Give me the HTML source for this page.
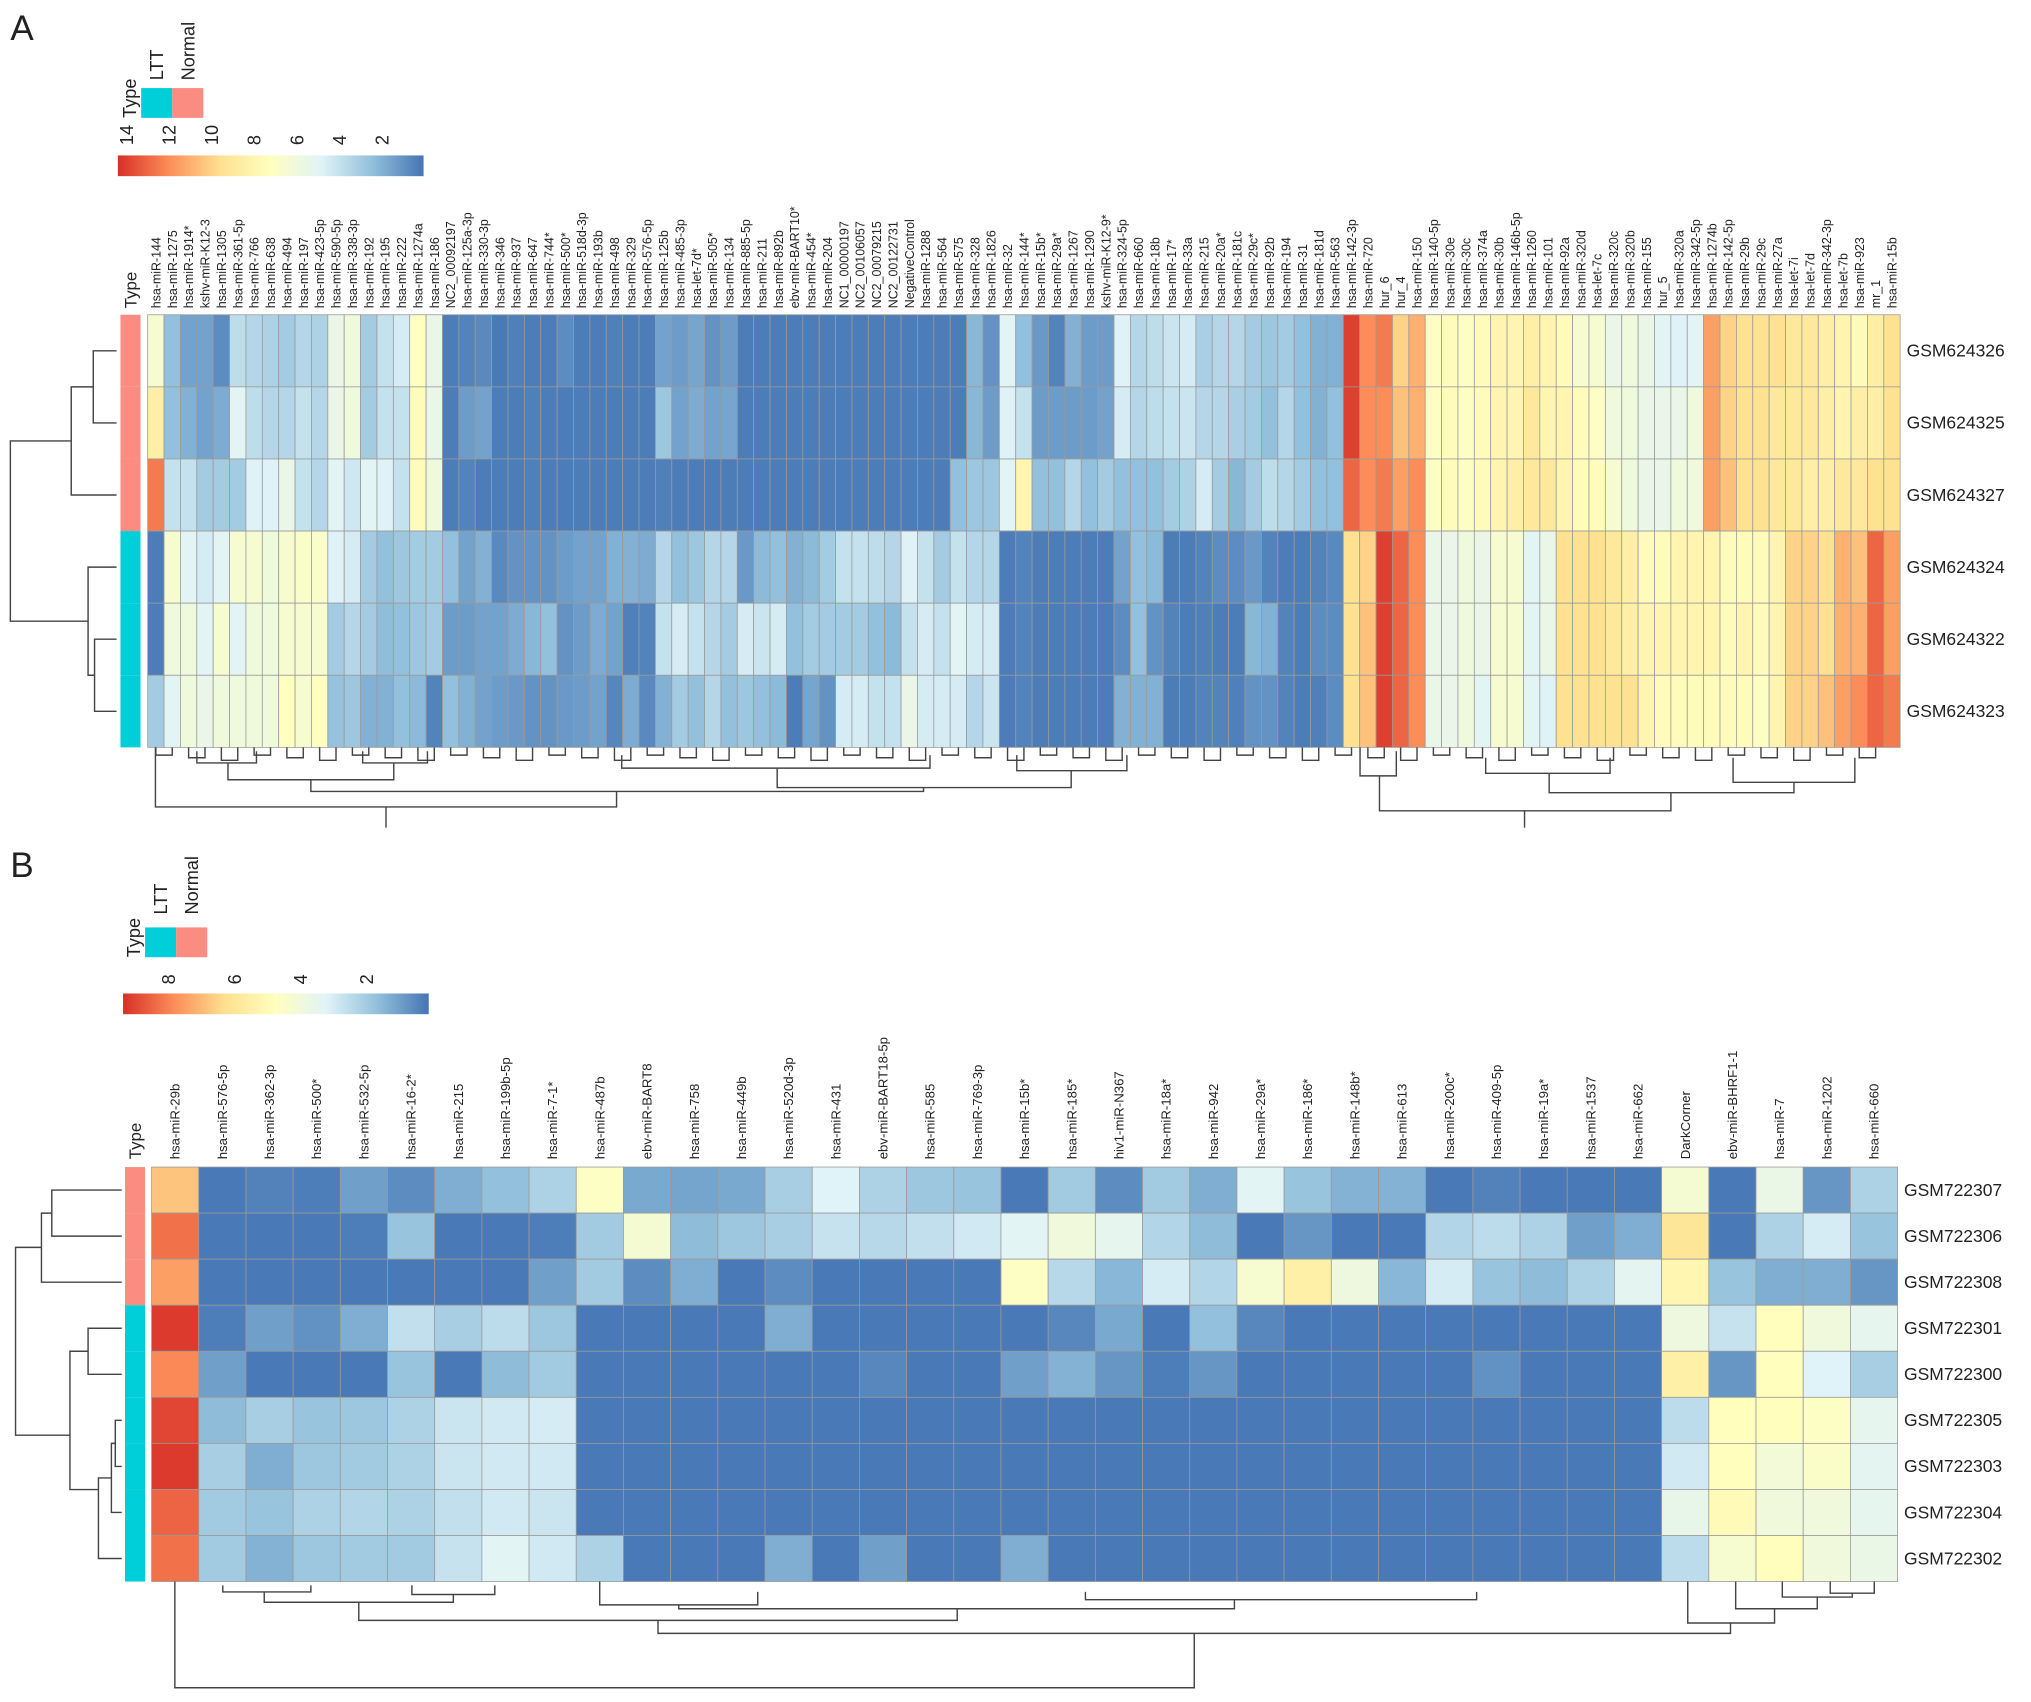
<!DOCTYPE html>
<html><head><meta charset="utf-8">
<style>
html,body{margin:0;padding:0;background:#fff;}
svg{display:block;}
text{font-family:"Liberation Sans",Arial,sans-serif;fill:#222;}
</style></head>
<body>
<svg id="fig" width="2031" height="1702" viewBox="0 0 1568 1314" preserveAspectRatio="none" xmlns="http://www.w3.org/2000/svg">
<text x="8" y="31" font-size="27">A</text>
<text x="8" y="677" font-size="27">B</text>
<g id="gA"></g>
<g id="gB"></g>
</svg>
<script>
// ---------- Panel A data ----------
const colsA = ["hsa-miR-144","hsa-miR-1275","hsa-miR-1914*","kshv-miR-K12-3","hsa-miR-1305","hsa-miR-361-5p","hsa-miR-766","hsa-miR-638","hsa-miR-494","hsa-miR-197","hsa-miR-423-5p","hsa-miR-590-5p","hsa-miR-338-3p","hsa-miR-192","hsa-miR-195","hsa-miR-222","hsa-miR-1274a","hsa-miR-186","NC2_00092197","hsa-miR-125a-3p","hsa-miR-330-3p","hsa-miR-346","hsa-miR-937","hsa-miR-647","hsa-miR-744*","hsa-miR-500*","hsa-miR-518d-3p","hsa-miR-193b","hsa-miR-498","hsa-miR-329","hsa-miR-576-5p","hsa-miR-125b","hsa-miR-485-3p","hsa-let-7d*","hsa-miR-505*","hsa-miR-134","hsa-miR-885-5p","hsa-miR-211","hsa-miR-892b","ebv-miR-BART10*","hsa-miR-454*","hsa-miR-204","NC1_00000197","NC2_00106057","NC2_00079215","NC2_00122731","NegativeControl","hsa-miR-1288","hsa-miR-564","hsa-miR-575","hsa-miR-328","hsa-miR-1826","hsa-miR-32","hsa-miR-144*","hsa-miR-15b*","hsa-miR-29a*","hsa-miR-1267","hsa-miR-1290","kshv-miR-K12-9*","hsa-miR-324-5p","hsa-miR-660","hsa-miR-18b","hsa-miR-17*","hsa-miR-33a","hsa-miR-215","hsa-miR-20a*","hsa-miR-181c","hsa-miR-29c*","hsa-miR-92b","hsa-miR-194","hsa-miR-31","hsa-miR-181d","hsa-miR-563","hsa-miR-142-3p","hsa-miR-720","hur_6","hur_4","hsa-miR-150","hsa-miR-140-5p","hsa-miR-30e","hsa-miR-30c","hsa-miR-374a","hsa-miR-30b","hsa-miR-146b-5p","hsa-miR-1260","hsa-miR-101","hsa-miR-92a","hsa-miR-320d","hsa-let-7c","hsa-miR-320c","hsa-miR-320b","hsa-miR-155","hur_5","hsa-miR-320a","hsa-miR-342-5p","hsa-miR-1274b","hsa-miR-142-5p","hsa-miR-29b","hsa-miR-29c","hsa-miR-27a","hsa-let-7i","hsa-let-7d","hsa-miR-342-3p","hsa-let-7b","hsa-miR-923","mr_1","hsa-miR-15b"];
const rowsA = ["GSM624326","GSM624325","GSM624327","GSM624324","GSM624322","GSM624323"];
const typesA = ["Normal","Normal","Normal","LTT","LTT","LTT"];
const ticksA = [14,12,10,8,6,4,2];
const rangeA = [0.05,14.4];
// values per column (rows in rowsA order)
const valsA = [
[6.5,8.5,12.5,0.3,0.3,3],[2.5,2.5,4,6.5,6,5],[1.5,2,4,5,6,6],[1.5,1.5,3,4.5,5,5.5],[0.8,1.8,3,5,6.5,6],
[3.8,5,3,6.5,5,6],[3.5,3.8,4.8,6.5,6,6],[3.3,3.5,4.8,6,6,6],[3,3.5,5.5,6.5,6.5,7.2],[3.5,4,4,6.8,6.5,6.5],
[3.3,3.5,3.5,6.8,6.5,7.2],[5.5,5.5,5,4.8,3,2.6],[6,6,4.3,4.5,3.5,2.8],[3,3,5,3,3,2],[4,4,4.8,2.5,2.4,2],
[4.5,4,4,2.8,2.5,2.5],[7.2,7.5,7.5,3,2.8,2.3],[5.5,5.5,6,3,3,0.5],[0.3,0.3,0.3,2.5,1.3,2.5],[0.5,1.3,0.5,1.5,1.3,2],
[0.7,1.5,0.3,2,1.5,1.5],[0.2,0.3,0.3,0.7,1.5,1.3],[0.4,0.3,0.3,1,1.8,1.2],[0.3,0.4,0.4,1,2.2,1],[0.3,0.3,0.3,1,2.5,1],
[0.8,0.3,0.3,1.3,1,1.2],[0.3,0.3,0.3,1.5,1.3,1.3],[0.3,0.3,0.3,1.5,1.8,1.5],[0.4,0.3,0.3,2,1.5,0.6],[0.3,0.3,0.3,2,0.4,1.8],
[0.3,0.3,0.3,1.8,0.5,0.7],[1.5,2.8,0.4,3.5,4,2],[1.3,1.5,0.3,2.5,4.5,3],[1.6,1.8,0.3,2.8,4,2.5],[1.0,1.5,0.3,3.5,3.5,3.5],
[1.3,1.6,0.3,3.5,3,2.5],[0.3,0.3,0.3,1.2,4.5,2.8],[0.3,0.3,0.3,2.3,4.2,2.5],[0.3,0.3,0.3,2.5,4.5,2.3],[0.3,0.3,0.3,2,2.5,0.3],
[0.3,0.3,0.3,2.3,3,1.6],[0.3,0.3,0.3,3,3,1.0],[0.3,0.3,0.3,4,3,4.5],[0.3,0.3,0.3,4,3,4.5],[0.3,0.3,0.3,3.8,2.5,4],
[0.3,0.3,0.3,3.5,2.3,4],[0.3,0.3,0.3,4.8,4,5.5],[0.3,0.3,0.3,4,4.5,4.5],[0.3,0.3,0.3,3,4,4.5],[0.3,0.3,2.5,4,5,4.5],
[2.2,2.2,2.8,3.5,4.5,3.5],[1.0,1.3,2.8,3.5,4.5,4.2],[5,4.8,5,0.3,0.3,0.3],[2.5,4,8,0.5,0.5,0.5],[1.2,1.3,2.5,0.3,0.3,0.3],
[0.5,1.3,2.5,0.3,0.3,0.3],[2,1.3,3.5,0.3,0.3,0.3],[1.3,1.3,2.5,0.3,0.3,0.3],[1.3,1.5,3,0.3,0.3,0.3],[4.8,4.5,2.5,1.5,0.8,2],
[3.5,3.5,2.5,2.5,2.5,2],[3.8,3.8,2.5,2.3,1.0,2],[4.2,4,3,0.3,0.5,0.3],[4.5,4.2,3.3,0.3,0.3,0.3],[3.2,3.5,4.5,0.5,0.4,0.5],
[3.5,3.5,3,0.8,0.3,0.5],[3.5,3.2,2.2,0.8,0.3,0.4],[3,3,3,1.2,2.2,1],[2.8,2.5,3.8,0.5,2,1],[3,3.5,3.5,0.3,0.5,0.5],
[2.5,2.5,3,0.3,0.3,0.3],[2,2,2.5,0.5,0.8,0.4],[2,2.5,2.5,0.7,0.8,0.8],[14,14,13,9.5,9.5,9.5],[12,12,12,10,10.5,10.5],
[12.5,12,12.5,14,14,14],[10,10.5,11.5,13,13,13],[11,11,12,12,12,12],[7,7,7,5.5,5.5,5.5],[7.5,7.5,7.5,5.5,5.5,5.5],
[7,7,7,6,6,6],[7.5,7.5,7.5,5.5,5.5,5],[8,8,8,6.5,6.5,6.5],[8,8,8.5,6.5,6.5,6.5],[8.5,9,9,5,5,5],
[8,8,9,5.5,5.5,4.8],[7.5,8,8,9.5,9.5,9.5],[6.5,7.5,7.5,9.5,9.5,9.5],[6.5,7,7.5,9.5,9.5,9.5],[5.5,6,6.5,9,9,9.5],
[6,6,6,8.5,8.5,9.5],[5.5,5.5,5.5,7.5,8,8],[5,5.5,5.5,7.5,8,7.5],[4.8,5.5,6,8,8,7.5],[5,6,6,8,8,7.5],
[11.5,11.5,11.5,8,8,7.5],[10,10,10.5,7.5,7.5,7.5],[9.5,9.5,9.5,7.5,8,7.5],[9.5,9.5,9.5,7.5,7.5,7],[9.5,9,9,8,8,8],
[9,9,9,10,10,10],[9,9,8.5,10,10,10],[8.5,8.5,8.5,9.5,9.5,10.5],[8,8,9,11,11,11.5],[7.5,8.5,9,10.5,11,12],
[8.5,8.5,9.5,13,13,13],[9.5,9.5,9.5,11.5,11.5,12.5]
];

// ---------- Panel B data ----------
const colsB = ["hsa-miR-29b","hsa-miR-576-5p","hsa-miR-362-3p","hsa-miR-500*","hsa-miR-532-5p","hsa-miR-16-2*","hsa-miR-215","hsa-miR-199b-5p","hsa-miR-7-1*","hsa-miR-487b","ebv-miR-BART8","hsa-miR-758","hsa-miR-449b","hsa-miR-520d-3p","hsa-miR-431","ebv-miR-BART18-5p","hsa-miR-585","hsa-miR-769-3p","hsa-miR-15b*","hsa-miR-185*","hiv1-miR-N367","hsa-miR-18a*","hsa-miR-942","hsa-miR-29a*","hsa-miR-186*","hsa-miR-148b*","hsa-miR-613","hsa-miR-200c*","hsa-miR-409-5p","hsa-miR-19a*","hsa-miR-1537","hsa-miR-662","DarkCorner","ebv-miR-BHRF1-1","hsa-miR-7","hsa-miR-1202","hsa-miR-660"];
const rowsB = ["GSM722307","GSM722306","GSM722308","GSM722301","GSM722300","GSM722305","GSM722303","GSM722304","GSM722302"];
const typesB = ["Normal","Normal","Normal","LTT","LTT","LTT","LTT","LTT","LTT"];
const ticksB = [8,6,4,2];
const rangeB = [0.12,9.37];
const valsB = [
[6.8,8.3,7.5,9.2,7.9,9,9.2,8.5,8.3],[0.2,0.2,0.2,0.3,1.0,1.6,2.1,2.0,2.0],[0.4,0.2,0.2,1.0,0.2,2.1,1.3,1.8,1.4],
[0.3,0.2,0.2,0.7,0.2,1.8,1.9,2.2,1.9],[1.0,0.3,0.2,1.3,0.2,1.9,2.0,2.3,2.0],[0.6,1.8,0.2,2.6,1.8,2.2,2.2,2.2,2.0],
[1.3,0.2,0.2,2.1,0.2,2.8,2.8,2.6,2.7],[1.7,0.2,0.2,2.5,1.6,2.9,2.9,2.9,3.3],[2.2,0.3,1.0,1.9,2.0,3.0,2.9,2.8,2.9],
[4.6,2.0,2.0,0.2,0.2,0.2,0.2,0.2,2.2],[1.2,4.2,0.6,0.2,0.2,0.2,0.2,0.2,0.2],[1.1,1.6,1.3,0.2,0.2,0.2,0.2,0.2,0.2],
[1.2,1.9,0.2,0.2,0.2,0.2,0.2,0.2,0.2],[2.1,2.1,0.6,1.3,0.2,0.2,0.2,0.2,1.3],[3.2,2.7,0.2,0.2,0.2,0.2,0.2,0.2,0.2],
[2.2,2.4,0.2,0.2,0.5,0.2,0.2,0.2,1.0],[1.9,2.6,0.2,0.2,0.2,0.2,0.2,0.2,0.2],[1.8,2.9,0.2,0.2,0.2,0.2,0.2,0.2,0.2],
[0.2,3.3,4.6,0.2,1.0,0.2,0.2,0.2,1.3],[2.0,4.0,2.4,0.5,1.4,0.2,0.2,0.2,0.2],[0.6,3.5,1.5,1.2,0.8,0.2,0.2,0.2,0.2],
[2.0,2.3,3.0,0.2,0.3,0.2,0.2,0.2,0.2],[1.3,1.6,2.3,1.7,0.8,0.2,0.2,0.2,0.2],[3.3,0.2,4.3,0.5,0.2,0.2,0.2,0.2,0.2],
[1.8,0.8,5.5,0.2,0.2,0.2,0.2,0.2,0.2],[1.4,0.2,3.9,0.2,0.2,0.2,0.2,0.2,0.2],[1.4,0.2,1.5,0.2,0.2,0.2,0.2,0.2,0.2],
[0.2,2.3,3.0,0.2,0.2,0.2,0.2,0.2,0.2],[0.4,2.5,1.8,0.2,0.7,0.2,0.2,0.2,0.2],[0.2,2.2,1.6,0.2,0.2,0.2,0.2,0.2,0.2],
[0.2,1.0,2.2,0.2,0.2,0.2,0.2,0.2,0.2],[0.2,1.3,3.4,0.2,0.2,0.2,0.2,0.2,0.2],[4.2,6.0,5.2,3.9,5.5,2.5,2.9,3.6,2.5],
[0.2,0.2,1.8,2.7,0.8,4.8,4.8,5.0,4.3],[3.7,2.2,1.3,4.8,4.8,4.8,4.1,4.0,4.8],[0.8,3.0,1.3,4.0,3.2,4.6,4.5,4.0,4.0],
[2.2,1.8,0.8,3.5,2.1,3.5,3.4,3.5,3.7]
];

const NS = "http://www.w3.org/2000/svg";
const STOPS = ["#4575B4","#91BFDB","#E0F3F8","#FFFFBF","#FEE090","#FC8D59","#D73027"];
function hex(c){return [parseInt(c.substr(1,2),16),parseInt(c.substr(3,2),16),parseInt(c.substr(5,2),16)];}
function color(v,rng){
  let t=(v-rng[0])/(rng[1]-rng[0]); t=Math.max(0,Math.min(1,t));
  const p=t*(STOPS.length-1), i=Math.min(STOPS.length-2,Math.floor(p)), f=p-i;
  const a=hex(STOPS[i]), b=hex(STOPS[i+1]);
  return "rgb("+a.map((x,k)=>Math.round(x+(b[k]-x)*f)).join(",")+")";
}
const TYPECOL = {LTT:"#00CED8", Normal:"#FA8C82"};
function mk(tag,attrs,parent){const e=document.createElementNS(NS,tag);for(const k in attrs)e.setAttribute(k,attrs[k]);parent.appendChild(e);return e;}
function txt(parent,x,y,s,size,rot,anchor){
  const t=mk("text",{x:x,y:y,"font-size":size},parent);
  if(rot)t.setAttribute("transform","rotate(-90 "+x+" "+y+")");
  if(anchor)t.setAttribute("text-anchor",anchor);
  t.textContent=s;return t;
}
function seg(parent,pts){
  const p=mk("polyline",{points:pts.map(q=>q.join(",")).join(" "),fill:"none",stroke:"#444","stroke-width":1.1},parent);
  
  
}
function bracket(g,x1,x2,y,y1,y2){ seg(g,[[x1,y1],[x1,y],[x2,y],[x2,y2]]); }
function rbracket(g,y1,y2,x,x1,x2){ seg(g,[[x1,y1],[x,y1],[x,y2],[x2,y2]]); }

function drawHeat(g,cfg){
  const {cols,rows,types,vals,rng,x0,x1,y0,y1,typeX,typeW,labY,rowLabX,colFont,rowFont} = cfg;
  const cw=(x1-x0)/cols.length, rh=(y1-y0)/rows.length;
  const xs=i=>x0+i*cw, ys=j=>y0+j*rh;
  // type bar
  rows.forEach((r,j)=>{
    const e=mk("rect",{x:typeX,y:ys(j),width:typeW,height:rh,fill:TYPECOL[types[j]]},g);
    
    
  });
  const tl=txt(g,typeX+typeW/2+4.5,labY,"Type",13,true);
  
  
  cols.forEach((c,i)=>{
    rows.forEach((r,j)=>{
      const e=mk("rect",{x:xs(i),y:ys(j),width:cw,height:rh,fill:color(vals[i][j],rng),stroke:"#9a9a9a","stroke-width":0.6},g);
      
      
    });
    const t=txt(g,xs(i)+cw/2+3.5,labY,c,colFont,true);
    
    
  });
  rows.forEach((r,j)=>{
    const t=txt(g,rowLabX,ys(j)+rh/2+4.5,r,rowFont,false);
    
    
  });
  return {cx:i=>xs(i)+cw/2, cy:j=>ys(j)+rh/2};
}
function drawLegend(g,cfg){
  const {bx0,bx1,by,bh,rng,ticks,tickY,boxX,boxY,boxW,boxH,typeLabX,lblY,tid} = cfg;
  const defs=mk("defs",{},g);
  const lg=mk("linearGradient",{id:tid,x1:"0",x2:"1",y1:"0",y2:"0"},defs);
  STOPS.slice().reverse().forEach((c,k)=>mk("stop",{offset:(k/(STOPS.length-1)),"stop-color":c},lg));
  const bar=mk("rect",{x:bx0,y:by,width:bx1-bx0,height:bh,fill:"url(#"+tid+")"},g);
  
  
  const sx=v=>bx0+(rng[1]-v)/(rng[1]-rng[0])*(bx1-bx0);
  ticks.forEach(v=>{
    const t=txt(g,sx(v)+5,tickY,String(v),14,true);
    
    
  });
  const a=mk("rect",{x:boxX,y:boxY,width:boxW,height:boxH,fill:TYPECOL.LTT},g);
  
  
  const b=mk("rect",{x:boxX+boxW,y:boxY,width:boxW,height:boxH,fill:TYPECOL.Normal},g);
  
  
  const t1=txt(g,typeLabX,boxY+boxH,"Type",14,true);
  
  
  const t2=txt(g,boxX+boxW/2+5,lblY,"LTT",14,true);
  
  
  const t3=txt(g,boxX+boxW*1.5+5,lblY,"Normal",14,true);
  
  
}

// ---- Panel A ----
const gA=document.getElementById("gA");
drawLegend(gA,{bx0:91,bx1:327,by:120,bh:16,rng:rangeA,ticks:ticksA,tickY:112,boxX:109,boxY:68,boxW:24,boxH:23,typeLabX:105,lblY:62,tid:"gradA"});
const A=drawHeat(gA,{cols:colsA,rows:rowsA,types:typesA,vals:valsA,rng:rangeA,x0:114,x1:1467,y0:243,y1:577,typeX:93,typeW:15.5,labY:238,rowLabX:1472,colFont:9.6,rowFont:13.5});
// row dendrogram A
rbracket(gA,A.cy(0),A.cy(1),72,90,90);
rbracket(gA,(A.cy(0)+A.cy(1))/2,A.cy(2),55,72,90);
rbracket(gA,A.cy(4),A.cy(5),73,90,90);
rbracket(gA,A.cy(3),(A.cy(4)+A.cy(5))/2,68,90,73);
rbracket(gA,(A.cy(0)*0.5+A.cy(1)*0.5+A.cy(2))/2,(A.cy(3)+(A.cy(4)+A.cy(5))/2)/2,8,55,68);
// column dendrogram A (tree structure)
for(let i=0;i<colsA.length-1;i+=2){ bracket(gA,A.cx(i),A.cx(i+1),583+(i%6),577,577); }
bracket(gA,120,476,623,577,611); seg(gA,[[298,623],[298,639]]);
bracket(gA,240,713,611,602,608);
bracket(gA,176,304,602,589,589);
bracket(gA,152,198,589,580,580); bracket(gA,280,330,589,580,580);
bracket(gA,600,827,608,593,595);
bracket(gA,480,718,593,583,583); bracket(gA,785,870,595,583,583);
bracket(gA,1065,1290,626,599,612); seg(gA,[[1177,626],[1177,639]]);
bracket(gA,1050,1078,599,577,580);
bracket(gA,1196,1385,612,597,604);
bracket(gA,1147,1243,597,585,585); bracket(gA,1338,1432,604,585,585);

// ---- Panel B ----
const gB=document.getElementById("gB");
drawLegend(gB,{bx0:95,bx1:331,by:767,bh:16,rng:rangeB,ticks:ticksB,tickY:760,boxX:112,boxY:716,boxW:24,boxH:23,typeLabX:108,lblY:706,tid:"gradB"});
const B=drawHeat(gB,{cols:colsB,rows:rowsB,types:typesB,vals:valsB,rng:rangeB,x0:117,x1:1465,y0:901,y1:1221,typeX:96.5,typeW:15.5,labY:895,rowLabX:1470,colFont:10.2,rowFont:13.5});
// row dendrogram B
rbracket(gB,B.cy(0),B.cy(1),40,94,94);
rbracket(gB,(B.cy(0)+B.cy(1))/2,B.cy(2),32,40,94);
rbracket(gB,B.cy(3),B.cy(4),68,94,94);
rbracket(gB,B.cy(5),B.cy(6),89,94,94);
rbracket(gB,(B.cy(5)+B.cy(6))/2,B.cy(7),86,89,94);
rbracket(gB,((B.cy(5)+B.cy(6))/2+B.cy(7))/2,B.cy(8),76,86,94);
rbracket(gB,(B.cy(3)+B.cy(4))/2,1150,54,68,76);
rbracket(gB,963,1108,12,32,54);
// column dendrogram B
bracket(gB,135,922,1303,1221,1261);
bracket(gB,508,1336,1261,1251,1253);
bracket(gB,277,739,1251,1237,1242);
bracket(gB,204,350,1237,1229,1231);
bracket(gB,172,240,1229,1224,1224); bracket(gB,318,382,1231,1224,1224);
bracket(gB,524,953,1242,1239,1235);
bracket(gB,463,585,1239,1221,1229); bracket(gB,838,1140,1235,1229,1229);
bracket(gB,1303,1370,1253,1221,1242);
bracket(gB,1340,1403,1242,1221,1233);
bracket(gB,1376,1430,1233,1221,1230);
bracket(gB,1413,1447,1230,1221,1221);
</script>
</body></html>
